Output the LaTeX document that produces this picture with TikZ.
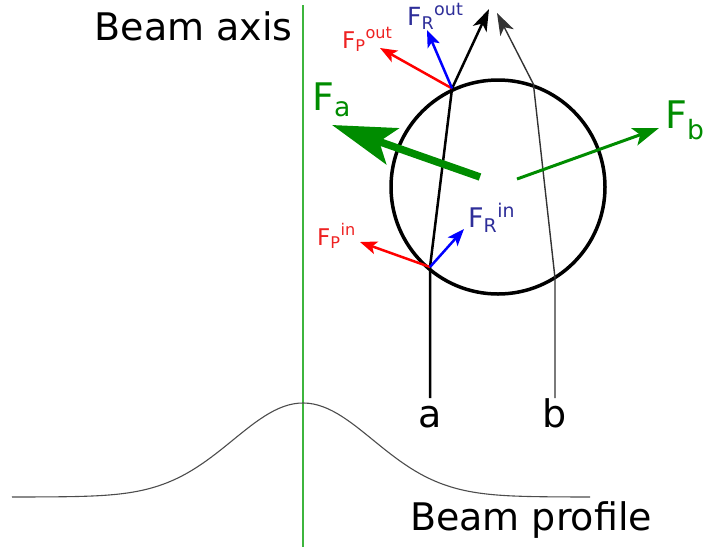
\documentclass[tikz,border=0pt]{standalone}
\usepackage{fontspec}
\setmainfont{DejaVu Sans}
\usetikzlibrary{arrows.meta}
\definecolor{forcegreen}{HTML}{008C00}
\definecolor{axisgreen}{HTML}{3DB53D}
\definecolor{labelblue}{HTML}{2E2E99}
\definecolor{labelred}{HTML}{EE2222}

\begin{document}
\begin{tikzpicture}[x=1pt, y=-1pt, every node/.style={inner sep=0pt, font=\fontsize{38}{40}\selectfont},
	fsize/.style={font=\fontsize{#1}{#1}\selectfont},
	>={Stealth[length=17pt, width=13pt, inset=4pt]},
	beamtip/.style={-{Stealth[length=22pt, width=15pt, inset=6pt]}}]
	\useasboundingbox (0,0) rectangle (703,547);
	\draw[axisgreen, line width=1.8] (303,5) -- (303,547);
	\draw[black!70, line width=1.1] plot[domain=12:590, samples=120] (\x, {497-94*exp(-((\x-303)/70)^2/2)});
	\node[anchor=base east] (axis) at (293,40) {Beam axis};
	\node[anchor=base west] (profile) at (410,530) {Beam profile};
	\node[draw, circle, line width=3.5, minimum size=214] (drop) at (498,187) {};
	\coordinate (ain) at (430,267);
	\coordinate (aout) at (drop.115);
	\coordinate (bin) at (555,278);
	\coordinate (bout) at (drop.71);
	\foreach \n/\x in {a/430, b/555} {
		\coordinate (\n bot) at (\x,398);
		\node[anchor=base] (\n label) at (\x,427) {\n};
	}
	\coordinate (atip) at (489,9);
	\coordinate (btip) at (497,13);
	\draw[beamtip, line width=2.5] (abot) -- (ain) -- (aout) -- (atip);
	\draw[beamtip, black!80, line width=1.4] (bbot) -- (bin) -- (bout) -- (btip);
	\coordinate (fpin) at (360,242);
	\coordinate (frin) at (464,229);
	\coordinate (fpout) at (380,48);
	\coordinate (frout) at (427,30);
	\draw[->, red, line width=2.5] (ain) -- (fpin);
	\draw[->, blue, line width=2.5] (ain) -- (frin);
	\draw[->, red, line width=2.5] (aout) -- (fpout);
	\draw[->, blue, line width=2.5] (aout) -- (frout);
	\node[fsize=23, labelred, anchor=base west] (fpinlabel) at (317,245) {F\textsubscript{P}\textsuperscript{in}};
	\node[fsize=27, labelblue, anchor=base west] (frinlabel) at (468,227) {F\textsubscript{R}\textsuperscript{in}};
	\node[fsize=23, labelred, anchor=base west] (fpoutlabel) at (342,48) {F\textsubscript{P}\textsuperscript{out}};
	\node[fsize=25, labelblue, anchor=base west] (froutlabel) at (407,25) {F\textsubscript{R}\textsuperscript{out}};
	\coordinate (fatail) at (480,177);
	\coordinate (fatip) at (332,125);
	\coordinate (fbtail) at (517,179);
	\coordinate (fbtip) at (659,128);
	\draw[-{Stealth[length=64pt, width=38pt, inset=14pt]}, forcegreen, line width=7.5] (fatail) -- (fatip);
	\draw[-{Stealth[length=26pt, width=18pt, inset=6pt]}, forcegreen, line width=3] (fbtail) -- (fbtip);
	\node[fsize=38, forcegreen, anchor=base west] (falabel) at (312,110) {F\textsubscript{a}};
	\node[fsize=38, forcegreen, anchor=base west] (fblabel) at (665,128) {F\textsubscript{b}};
\end{tikzpicture}
\end{document}
